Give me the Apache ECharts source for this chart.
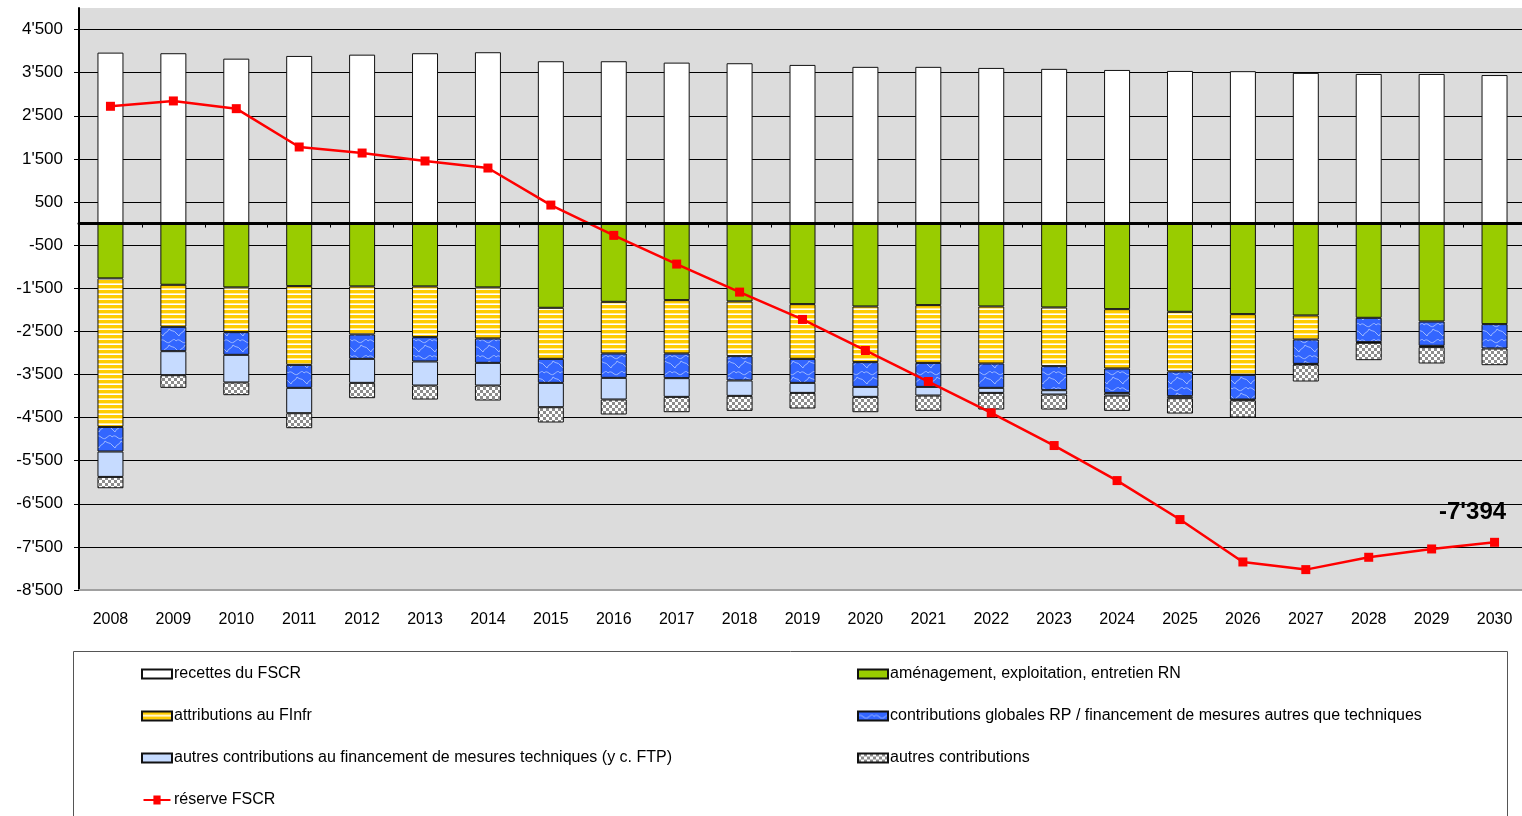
<!DOCTYPE html>
<html>
<head>
<meta charset="utf-8">
<script src="https://cdn.jsdelivr.net/npm/echarts@6/dist/echarts.min.js"></script>
<style>
html,body{margin:0;padding:0;background:#fff;}
#chart{width:1522px;height:816px;}
</style>
</head>
<body>
<div id="chart"></div>
<script>
const years = ['2008','2009','2010','2011','2012','2013','2014','2015','2016','2017','2018','2019','2020','2021','2022','2023','2024','2025','2026','2027','2028','2029','2030'];
const recettes = [3965,3951,3825,3888,3918,3951,3974,3765,3765,3733,3719,3680,3635,3635,3610,3588,3563,3540,3535,3495,3470,3470,3445];
const amenagement = [-1272,-1420,-1481,-1451,-1458,-1458,-1481,-1954,-1815,-1776,-1806,-1869,-1923,-1892,-1923,-1946,-1985,-2047,-2101,-2132,-2186,-2271,-2333];
const attributions = [-3445,-975,-1038,-1826,-1114,-1177,-1184,-1184,-1198,-1237,-1270,-1269,-1292,-1339,-1323,-1362,-1377,-1385,-1408,-557,null,null,null];
const contribGlobales = [-571,-565,-526,-534,-566,-564,-566,-557,-566,-573,-564,-557,-573,-557,-565,-557,-566,-572,-573,-565,-565,-565,-565];
const autresTech = [-589,-557,-641,-588,-557,-558,-526,-565,-502,-434,-357,-233,-232,-201,-117,-101,-61,-47,-20,-15,-15,-30,null];
const autresContrib = [-263,-294,-295,-348,-356,-325,-348,-355,-348,-356,-348,-362,-356,-356,-386,-348,-356,-356,-398,-395,-403,-380,-387];
const reserve = [2720,2844,2665,1776,1636,1451,1288,429,-274,-940,-1590,-2224,-2944,-3664,-4391,-5149,-5962,-6866,-7850,-8027,-7741,-7548,-7394];
const yTicks = {min:-8500, max:5000, interval:1000};

function fmt(v){
  const s = Math.abs(v).toString();
  const t = s.length > 3 ? s.slice(0, s.length-3) + "'" + s.slice(s.length-3) : s;
  return (v < 0 ? '-' : '') + t;
}

function makeCanvas(w, h, draw){
  const c = document.createElement('canvas');
  c.width = w; c.height = h;
  draw(c.getContext('2d'));
  return c;
}
const stripe = makeCanvas(4, 5, function(ctx){
  ctx.fillStyle = '#ffffff'; ctx.fillRect(0,0,4,5);
  ctx.fillStyle = '#FFCC00'; ctx.fillRect(0,0,4,3);
  ctx.fillStyle = '#FFEB99'; ctx.fillRect(0,3,4,1);
});
const wave = makeCanvas(16, 16, function(ctx){
  ctx.fillStyle = '#3366FF'; ctx.fillRect(0,0,16,16);
  ctx.strokeStyle = '#9DB8FF'; ctx.lineWidth = 1;
  ctx.beginPath();
  ctx.moveTo(0,5); ctx.bezierCurveTo(4,1,6,9,10,6); ctx.bezierCurveTo(13,4,14,2,16,5);
  ctx.moveTo(3,16); ctx.bezierCurveTo(4,12,8,13,9,9); ctx.moveTo(9,9); ctx.bezierCurveTo(12,12,14,10,16,13);
  ctx.moveTo(0,13); ctx.lineTo(3,16);
  ctx.stroke();
});
const checker = makeCanvas(6, 6, function(ctx){
  ctx.fillStyle = '#ffffff'; ctx.fillRect(0,0,6,6);
  ctx.fillStyle = '#8C8C8C'; ctx.fillRect(0,0,3,3); ctx.fillRect(3,3,3,3);
});

const FONT = '"Liberation Sans", Arial, sans-serif';
const border = {borderColor:'#111', borderWidth:1};

function barSeries(name, data, color){
  return {
    name: name, type: 'bar', stack: 'total', data: data, barWidth: 26,
    itemStyle: Object.assign({color: color}, border),
    emphasis: {disabled: true}
  };
}

const reserveData = reserve.map(function(v, i){
  if (i === reserve.length - 1) {
    return {value: v, label: {show: true, position: 'top', formatter: function(p){ return fmt(p.value); },
      fontSize: 24, fontWeight: 'bold', color: '#000', fontFamily: FONT, offset: [-22, -8]}};
  }
  return v;
});

const legendText = {fontSize: 16, lineHeight: 16, color: '#000', fontFamily: FONT, padding: [0, 0, 0, -3]};
const lineIcon = 'path://M0,4 L11,4 L11,0 L19,0 L19,4 L30,4 L30,6 L19,6 L19,10 L11,10 L11,6 L0,6 Z';

const chart = echarts.init(document.getElementById('chart'), null, {renderer: 'canvas'});
chart.setOption({
  animation: false,
  backgroundColor: '#ffffff',
  textStyle: {fontFamily: FONT},
  grid: {left: 79, width: 1447, top: 8, bottom: 226, show: true, backgroundColor: '#DCDCDC', borderWidth: 0,
    containLabel: false, outerBoundsMode: 'none'},
  xAxis: [
    {type: 'category', data: years, position: 'bottom',
      axisLine: {onZero: false, lineStyle: {color: '#A0A0A0', width: 2}},
      axisTick: {show: false},
      axisLabel: {color: '#000', fontSize: 16, margin: 22, fontFamily: FONT},
      splitLine: {show: false}},
    {type: 'category', data: years, position: 'bottom', z: 5,
      axisLine: {onZero: true, lineStyle: {color: '#000', width: 3}},
      axisTick: {show: true, length: 4, lineStyle: {color: '#000', width: 1}},
      axisLabel: {show: false},
      splitLine: {show: false}}
  ],
  yAxis: {
    type: 'value', min: yTicks.min, max: yTicks.max, interval: yTicks.interval,
    axisLine: {show: true, lineStyle: {color: '#000', width: 2}},
    axisTick: {show: true, length: 5, lineStyle: {color: '#000'}},
    axisLabel: {color: '#000', fontSize: 17, margin: 16, fontFamily: FONT, showMaxLabel: false,
      formatter: function(v){ return v === yTicks.max ? '' : fmt(v); }},
    splitLine: {show: true, showMaxLine: false, showMinLine: false, lineStyle: {color: '#000', width: 1}}
  },
  legend: [
    {orient: 'vertical', left: 141, top: 666, padding: 0, icon: 'rect', itemWidth: 30, itemHeight: 9, itemGap: 26,
      textStyle: legendText,
      data: ['recettes du FSCR', 'attributions au FInfr', 'autres contributions au financement de mesures techniques (y c. FTP)',
        {name: 'réserve FSCR', icon: lineIcon, itemStyle: {borderWidth: 0}}]},
    {orient: 'vertical', left: 857, top: 666, padding: 0, icon: 'rect', itemWidth: 30, itemHeight: 9, itemGap: 26,
      textStyle: legendText,
      data: ['aménagement, exploitation, entretien RN', 'contributions globales RP / financement de mesures autres que techniques', 'autres contributions']}
  ],
  graphic: [
    {type: 'rect', left: 71, top: 649, silent: true, z: -1,
      shape: {width: 1434, height: 200}, style: {fill: 'none', stroke: '#555', lineWidth: 1}}
  ],
  series: [
    barSeries('recettes du FSCR', recettes, '#ffffff'),
    barSeries('aménagement, exploitation, entretien RN', amenagement, '#99CC00'),
    barSeries('attributions au FInfr', attributions, {image: stripe, repeat: 'repeat'}),
    barSeries('contributions globales RP / financement de mesures autres que techniques', contribGlobales, {image: wave, repeat: 'repeat'}),
    barSeries('autres contributions au financement de mesures techniques (y c. FTP)', autresTech, '#C6DBFF'),
    barSeries('autres contributions', autresContrib, {image: checker, repeat: 'repeat'}),
    {name: 'réserve FSCR', type: 'line', data: reserveData, z: 4,
      symbol: 'rect', symbolSize: 9, showAllSymbol: true,
      lineStyle: {color: '#FF0000', width: 2.5}, itemStyle: {color: '#FF0000'},
      emphasis: {disabled: true}}
  ]
});
</script>
</body>
</html>
